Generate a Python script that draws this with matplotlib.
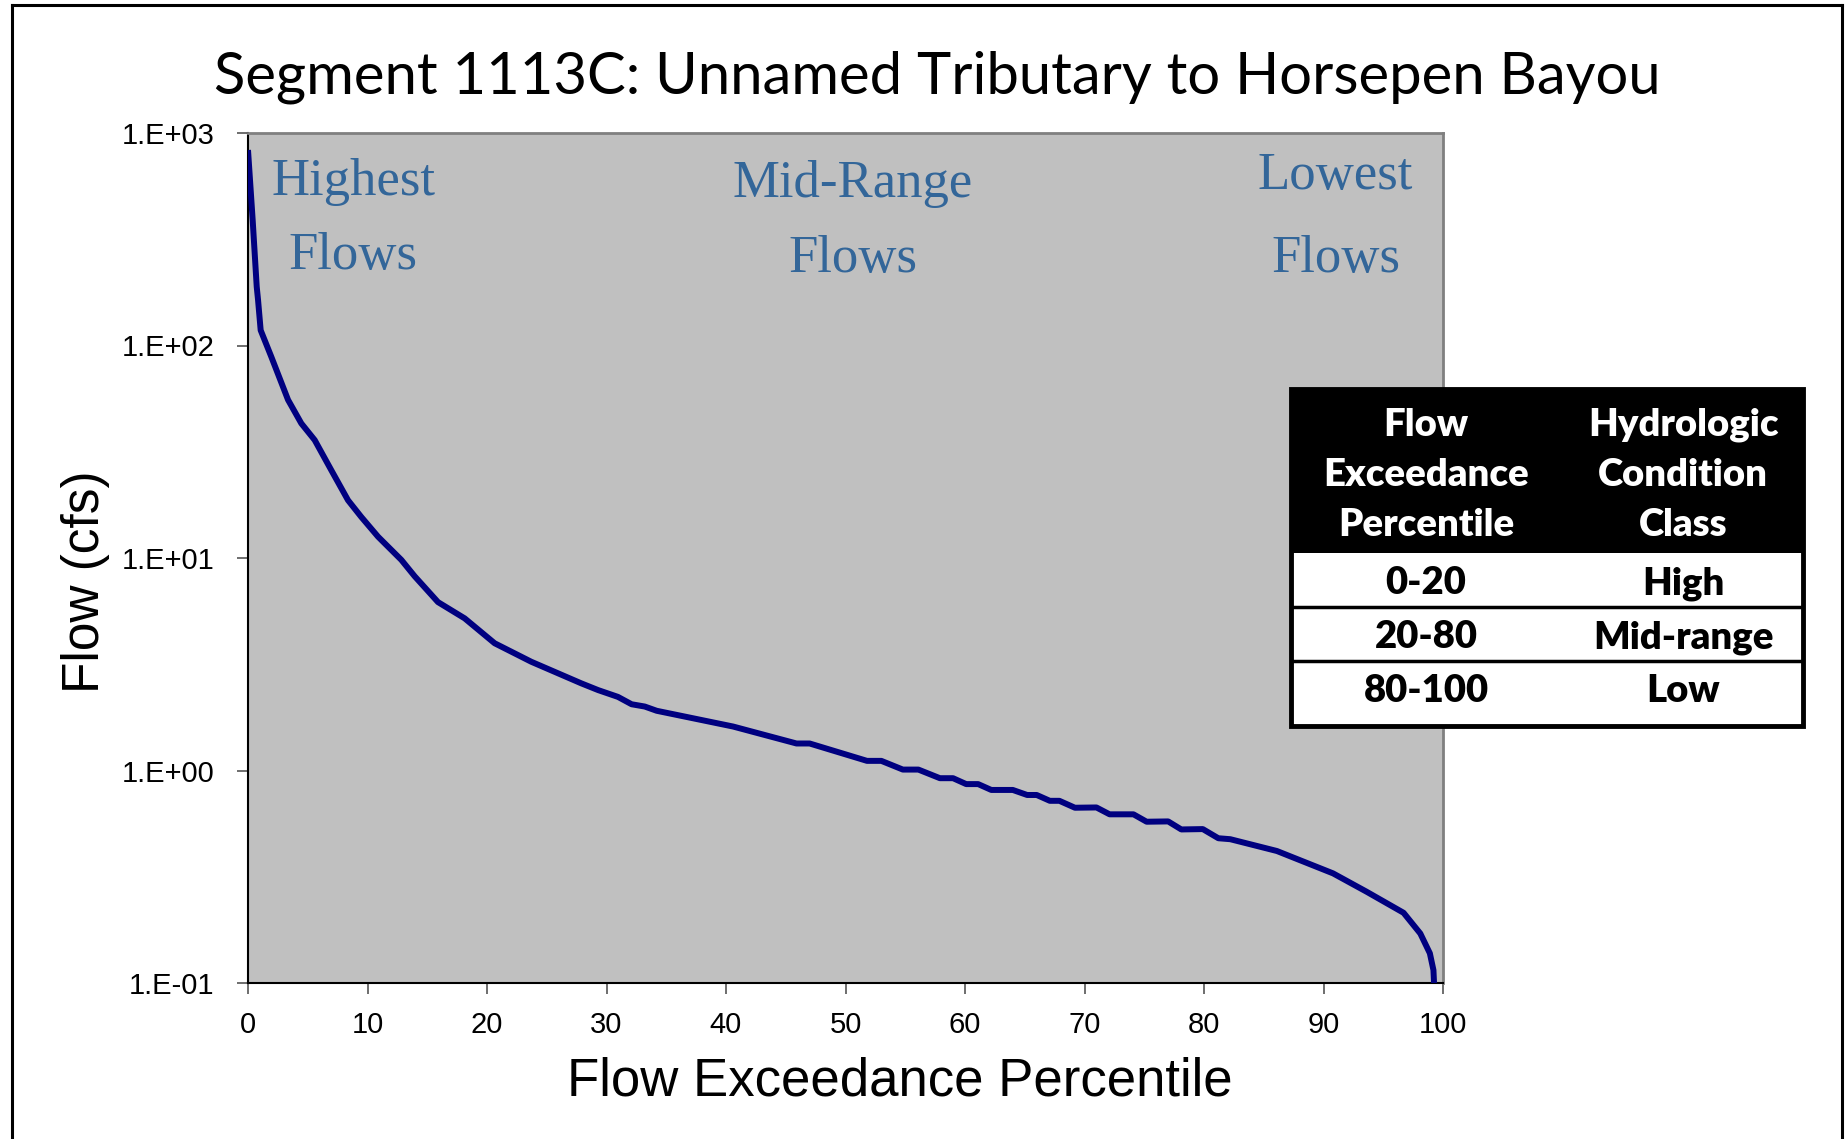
import matplotlib
matplotlib.use("Agg")
import matplotlib.pyplot as plt
from matplotlib.lines import Line2D
from matplotlib.patches import Rectangle

# ---------------- data ----------------
exceedance_pct = [0, 0.39, 0.73, 0.84, 1.06, 1.95, 3.35, 4.46, 5.58, 6.97, 8.37, 9.48,
                  10.88, 12.83, 13.95, 15.9, 18.13, 20.64, 23.7, 27.9, 29.3, 30.96,
                  32.1, 33.2, 34.2, 40.6, 45.9, 47.0, 51.8, 53.0, 54.8, 56.1, 57.9,
                  59.0, 60.1, 61.1, 62.2, 64.0, 65.2, 66.0, 67.1, 67.9, 69.2, 71.0,
                  72.1, 74.1, 75.2, 77.0, 78.1, 79.9, 81.2, 82.2, 86.1, 90.8, 93.6,
                  96.7, 98.1, 98.9, 99.2, 99.25]
flow_cfs = [832, 390, 189, 164, 118, 88.5, 55.5, 43, 35.9, 25.9, 18.7, 15.6,
            12.6, 9.8, 8.2, 6.2, 5.2, 3.97, 3.25, 2.57, 2.39, 2.22,
            2.05, 2.0, 1.91, 1.61, 1.34, 1.34, 1.11, 1.11, 1.01, 1.01, 0.92,
            0.92, 0.863, 0.863, 0.81, 0.81, 0.767, 0.767, 0.72, 0.72, 0.668, 0.67,
            0.622, 0.622, 0.574, 0.576, 0.528, 0.53, 0.48, 0.475, 0.418, 0.328, 0.269,
            0.214, 0.171, 0.138, 0.115, 0.1]

x_ticks = [0, 10, 20, 30, 40, 50, 60, 70, 80, 90, 100]
y_ticks = [0.1, 1, 10, 100, 1000]
y_tick_labels = ["1.E-01", "1.E+00", "1.E+01", "1.E+02", "1.E+03"]

title = "Segment 1113C: Unnamed Tributary to Horsepen Bayou"
x_label = "Flow Exceedance Percentile"
y_label = "Flow (cfs)"

zone_labels = [("Highest", "Flows"), ("Mid-Range", "Flows"), ("Lowest", "Flows")]

table_header = [["Flow", "Exceedance", "Percentile"], ["Hydrologic", "Condition", "Class"]]
table_ranges = ["0-20", "20-80", "80-100"]
table_classes = ["High", "Mid-range", "Low"]

# ---------------- figure ----------------
W, H = 1845, 1139
fig = plt.figure(figsize=(W / 100, H / 100), dpi=100)
fig.patch.set_facecolor("white")

def fx(px):
    return px / W

def fy(py):
    return 1 - py / H

L, R, T, B = 248, 1443, 133, 983
ax = fig.add_axes([fx(L), fy(B), fx(R) - fx(L), fy(T) - fy(B)])
ax.set_facecolor("#C0C0C0")
ax.plot(exceedance_pct, flow_cfs, color="#000080", lw=4.3, solid_joinstyle="round",
        solid_capstyle="butt", zorder=3)
ax.set_yscale("log")
ax.set_xlim(0, 100)
ax.set_ylim(0.1, 1000)
ax.set_xticks(x_ticks)
ax.set_xticklabels([str(t) for t in x_ticks])
ax.set_yticks(y_ticks)
ax.set_yticklabels(y_tick_labels)
ax.minorticks_off()
ax.tick_params(axis="both", which="major", direction="out", length=8, width=1.2,
               color="#555555", labelsize=21, pad=12)
for lab in ax.get_xticklabels() + ax.get_yticklabels():
    lab.set_family("Liberation Sans")
ax.tick_params(axis="y", pad=16)

ax.spines["left"].set_color("black")
ax.spines["bottom"].set_color("black")
ax.spines["left"].set_linewidth(1.5)
ax.spines["bottom"].set_linewidth(1.5)
ax.spines["top"].set_color("#808080")
ax.spines["right"].set_color("#808080")
ax.spines["top"].set_linewidth(2)
ax.spines["right"].set_linewidth(2)

# zone labels
zone_x = [0.088, 0.506, 0.91]
zone_y1 = [0.942, 0.94, 0.949]
zone_y2 = [0.855, 0.852, 0.852]
for (l1, l2), xx, y1, y2 in zip(zone_labels, zone_x, zone_y1, zone_y2):
    for txt, yy in ((l1, y1), (l2, y2)):
        ax.text(xx, yy, txt, transform=ax.transAxes, ha="center", va="center",
                fontsize=38, family="Liberation Serif", color="#336699")

# axis labels and title
fig.text(fx(900), fy(1082), x_label, ha="center", va="center", fontsize=38,
         family="Liberation Sans")
fig.text(fx(85), fy(582), y_label, ha="center", va="center", fontsize=37,
         family="Liberation Sans", rotation=90)
fig.text(fx(937), fy(77), title, ha="center", va="center", fontsize=41.8,
         family="Lato")

# ---------------- table ----------------
tL, tR, tT, tB = 1291, 1803, 389, 726
tax = fig.add_axes([fx(tL), fy(tB), fx(tR) - fx(tL), fy(tT) - fy(tB)], zorder=5)
tax.set_xlim(0, 1)
tax.set_ylim(0, 1)
tax.axis("off")
hdr_bottom = (tB - 553) / (tB - tT)
tax.add_patch(Rectangle((0, 0), 1, 1, facecolor="white", edgecolor="none"))
tax.add_patch(Rectangle((0, hdr_bottom), 1, 1 - hdr_bottom, facecolor="black",
                        edgecolor="none"))
row_lines = [(tB - 607) / (tB - tT), (tB - 661) / (tB - tT)]
for yl in row_lines:
    tax.plot([0, 1], [yl, yl], color="black", lw=2.5)
tax.add_patch(Rectangle((0, 0), 1, 1, facecolor="none", edgecolor="black", lw=3.5,
                        clip_on=False))
col_x = [0.264, 0.766]
hdr_y = [(tB - 424.5) / (tB - tT), (tB - 475.5) / (tB - tT), (tB - 525.5) / (tB - tT)]
for ci, col in enumerate(table_header):
    for line, yy in zip(col, hdr_y):
        tax.text(col_x[ci], yy, line, ha="center", va="center", color="white",
                 fontsize=27.5, fontweight="heavy", family="Lato")
row_y = [(tB - 583.5) / (tB - tT), (tB - 637.5) / (tB - tT), (tB - 691.5) / (tB - tT)]
for rng, cls, yy in zip(table_ranges, table_classes, row_y):
    tax.text(col_x[0], yy, rng, ha="center", va="center", color="black",
             fontsize=27.5, fontweight="heavy", family="Lato")
    tax.text(col_x[1], yy, cls, ha="center", va="center", color="black",
             fontsize=27.5, fontweight="heavy", family="Lato")

# outer frame (open at bottom)
for xs, ys in (([fx(12), fx(12)], [0, fy(5)]),
               ([fx(12), fx(1842)], [fy(5), fy(5)]),
               ([fx(1842), fx(1842)], [fy(5), 0])):
    fig.add_artist(Line2D(xs, ys, color="black", lw=2.2))

fig.savefig("out.png", dpi=100, facecolor="white")
